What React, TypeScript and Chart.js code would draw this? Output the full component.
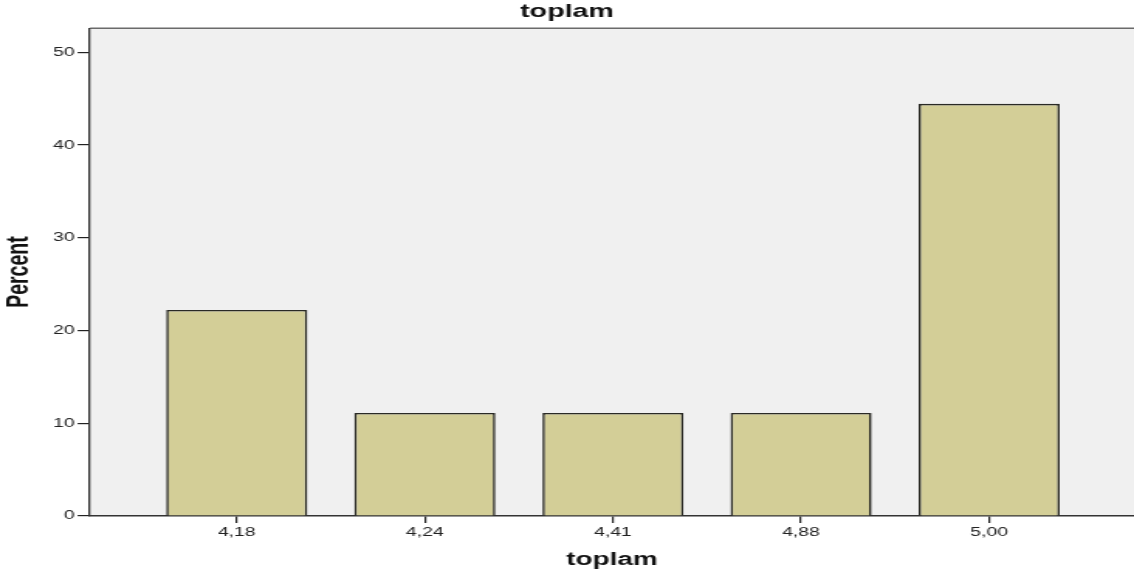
import { useEffect, useRef } from 'react';
import { Chart, registerables } from 'chart.js';

Chart.register(...registerables);

// ---- data ----
const categories = ['4,18', '4,24', '4,41', '4,88', '5,00'];
const percents = [22.22, 11.11, 11.11, 11.11, 44.44];
const yTickValues = [0, 10, 20, 30, 40, 50];
const chartTitle = 'toplam';
const xAxisTitle = 'toplam';
const yAxisTitle = 'Percent';

// ---- layout (the reference is a horizontally stretched SPSS picture) ----
const SCREEN_W = 1134;
const SCREEN_H = 576;
const CANVAS_W = 732;
const STRETCH = SCREEN_W / CANVAS_W;
const FONT = '"Liberation Sans", Arial, Helvetica, sans-serif';

const plotBackground = {
  id: 'plotBackground',
  beforeDraw(chart: any) {
    const { ctx, chartArea } = chart;
    const { left, top, right, bottom } = chartArea;
    ctx.save();
    ctx.fillStyle = '#F0F0F0';
    ctx.fillRect(left, top, right - left, bottom - top);
    ctx.strokeStyle = '#6a6a6a';
    ctx.lineWidth = 1.5;
    ctx.beginPath();
    ctx.moveTo(left, top);
    ctx.lineTo(right, top);
    ctx.stroke();
    ctx.restore();
  },
};

export default function App() {
  const canvasRef = useRef<HTMLCanvasElement | null>(null);

  useEffect(() => {
    document.body.style.margin = '0';
    const canvas = canvasRef.current;
    if (!canvas) return;
    const chart = new Chart(canvas, {
      type: 'bar',
      data: {
        datasets: [
          {
            data: categories.map((_, i) => ({ x: i, y: percents[i] })),
            backgroundColor: '#D3CE97',
            borderColor: '#2a2a25',
            borderWidth: 1.6,
            barPercentage: 0.75,
            categoryPercentage: 1,
          },
        ],
      },
      options: {
        responsive: false,
        animation: false,
        devicePixelRatio: 1,
        layout: { padding: 0 },
        plugins: {
          legend: { display: false },
          tooltip: { enabled: false },
          title: {
            display: true,
            text: chartTitle,
            color: '#111',
            font: { family: FONT, size: 18.5, weight: 'bold' },
            padding: { top: 0.5, bottom: 5.5 },
          },
        },
        scales: {
          x: {
            type: 'linear',
            min: -0.78,
            max: 4.77,
            offset: false,
            afterBuildTicks: (axis: any) => {
              axis.ticks = categories.map((_, i) => ({ value: i }));
            },
            afterFit: (scale: any) => {
              scale.height = 60;
            },
            ticks: {
              callback: (value: any) => categories[value as number] ?? '',
              color: '#222',
              font: { family: FONT, size: 12.5 },
              padding: 2.5,
              maxRotation: 0,
              autoSkip: false,
            },
            grid: {
              offset: false,
              drawOnChartArea: false,
              drawTicks: true,
              tickLength: 7,
              color: '#222',
              lineWidth: 1.2,
            },
            border: { display: true, color: '#333', width: 1.5 },
            title: {
              display: true,
              text: xAxisTitle,
              color: '#111',
              font: { family: FONT, size: 18, weight: 'bold' },
              padding: { top: 0, bottom: 4.8 },
            },
          },
          y: {
            type: 'linear',
            min: 0,
            max: 52.6,
            afterBuildTicks: (axis: any) => {
              axis.ticks = yTickValues.map((v) => ({ value: v }));
            },
            afterFit: (scale: any) => {
              scale.width = 90 / STRETCH;
            },
            ticks: {
              color: '#222',
              font: { family: FONT, size: 12.5 },
              padding: 2,
            },
            grid: {
              drawOnChartArea: false,
              drawTicks: true,
              tickLength: 8,
              color: '#222',
              lineWidth: 1.2,
            },
            border: { display: true, color: '#333', width: 1.3 },
            title: {
              display: true,
              text: yAxisTitle,
              color: '#111',
              font: { family: FONT, size: 19.5, weight: 'bold' },
              padding: { top: 1.2, bottom: 0 },
            },
          },
        },
      },
      plugins: [plotBackground],
    } as any);
    return () => chart.destroy();
  }, []);

  return (
    <canvas
      ref={canvasRef}
      width={CANVAS_W}
      height={SCREEN_H}
      style={{ width: `${SCREEN_W}px`, height: `${SCREEN_H}px`, display: 'block' }}
    />
  );
}
